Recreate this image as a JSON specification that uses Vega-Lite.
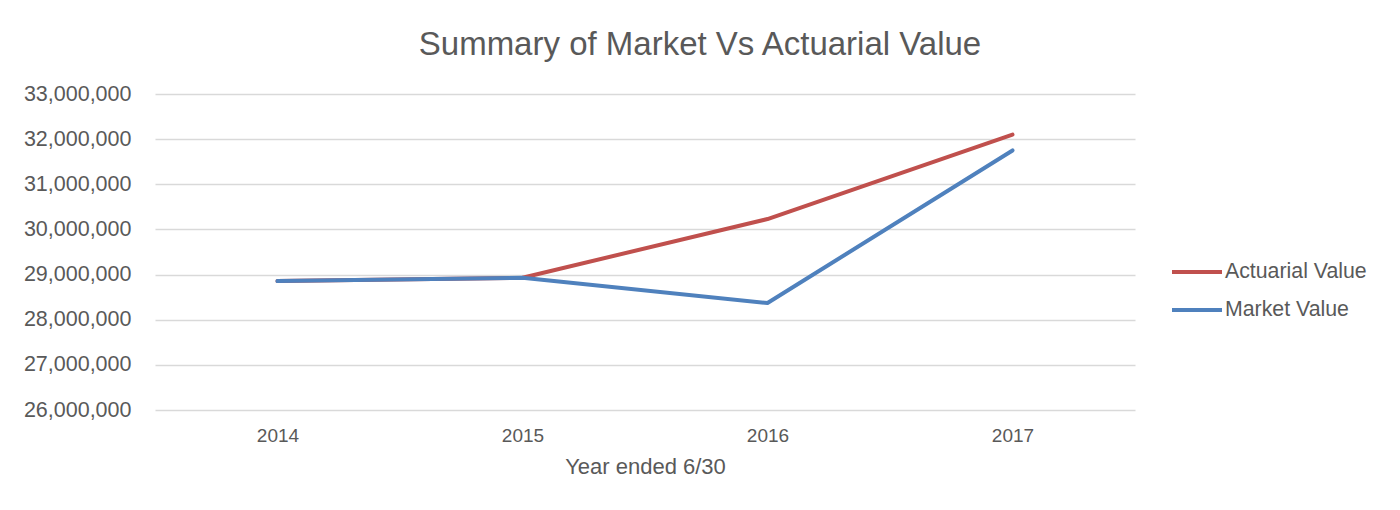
{
  "$schema": "https://vega.github.io/schema/vega-lite/v6.json",
  "width": 980,
  "height": 316,
  "autosize": "none",
  "padding": {"left": 155, "top": 94, "right": 265, "bottom": 100},
  "background": "white",
  "title": {
    "text": "Summary of Market Vs Actuarial Value",
    "font": "Liberation Sans, Arial, sans-serif",
    "fontSize": 33,
    "fontWeight": "normal",
    "color": "#595959",
    "anchor": "middle",
    "dx": 55,
    "offset": 21
  },
  "data": {
    "values": [
      {"year": "2014", "series": "Actuarial Value", "value": 28855000},
      {"year": "2015", "series": "Actuarial Value", "value": 28930000},
      {"year": "2016", "series": "Actuarial Value", "value": 30230000},
      {"year": "2017", "series": "Actuarial Value", "value": 32100000},
      {"year": "2014", "series": "Market Value", "value": 28855000},
      {"year": "2015", "series": "Market Value", "value": 28930000},
      {"year": "2016", "series": "Market Value", "value": 28370000},
      {"year": "2017", "series": "Market Value", "value": 31750000}
    ]
  },
  "mark": {"type": "line", "strokeWidth": 4, "strokeCap": "round", "strokeJoin": "round"},
  "encoding": {
    "x": {
      "field": "year",
      "type": "ordinal",
      "scale": {"type": "point", "padding": 0.5},
      "axis": {
        "title": "Year ended 6/30",
        "titleFont": "Liberation Sans, Arial",
        "titleFontSize": 22,
        "titleFontWeight": "normal",
        "titleColor": "#595959",
        "titlePadding": 11,
        "labelFont": "Liberation Sans, Arial",
        "labelFontSize": 19,
        "labelColor": "#595959",
        "labelAngle": 0,
        "labelPadding": 16,
        "ticks": false,
        "domain": false,
        "grid": false
      }
    },
    "y": {
      "field": "value",
      "type": "quantitative",
      "scale": {"domain": [26000000, 33000000], "nice": false, "zero": false},
      "axis": {
        "title": null,
        "values": [26000000, 27000000, 28000000, 29000000, 30000000, 31000000, 32000000, 33000000],
        "format": ",d",
        "labelFont": "Liberation Sans, Arial",
        "labelFontSize": 21.5,
        "labelColor": "#595959",
        "labelPadding": 24,
        "ticks": false,
        "domain": false,
        "grid": true,
        "gridColor": "#D9D9D9",
        "gridWidth": 1.5
      }
    },
    "color": {
      "field": "series",
      "type": "nominal",
      "scale": {"domain": ["Actuarial Value", "Market Value"], "range": ["#C0504D", "#4F81BD"]},
      "legend": {
        "title": null,
        "orient": "none",
        "legendX": 1015,
        "legendY": 151,
        "symbolType": "stroke",
        "symbolSize": 2500,
        "symbolStrokeWidth": 4,
        "labelFont": "Liberation Sans, Arial",
        "labelFontSize": 21.3,
        "labelColor": "#595959",
        "labelOffset": 1,
        "rowPadding": 0
      }
    },
    "order": {"field": "series"}
  },
  "config": {"view": {"stroke": null}}
}
